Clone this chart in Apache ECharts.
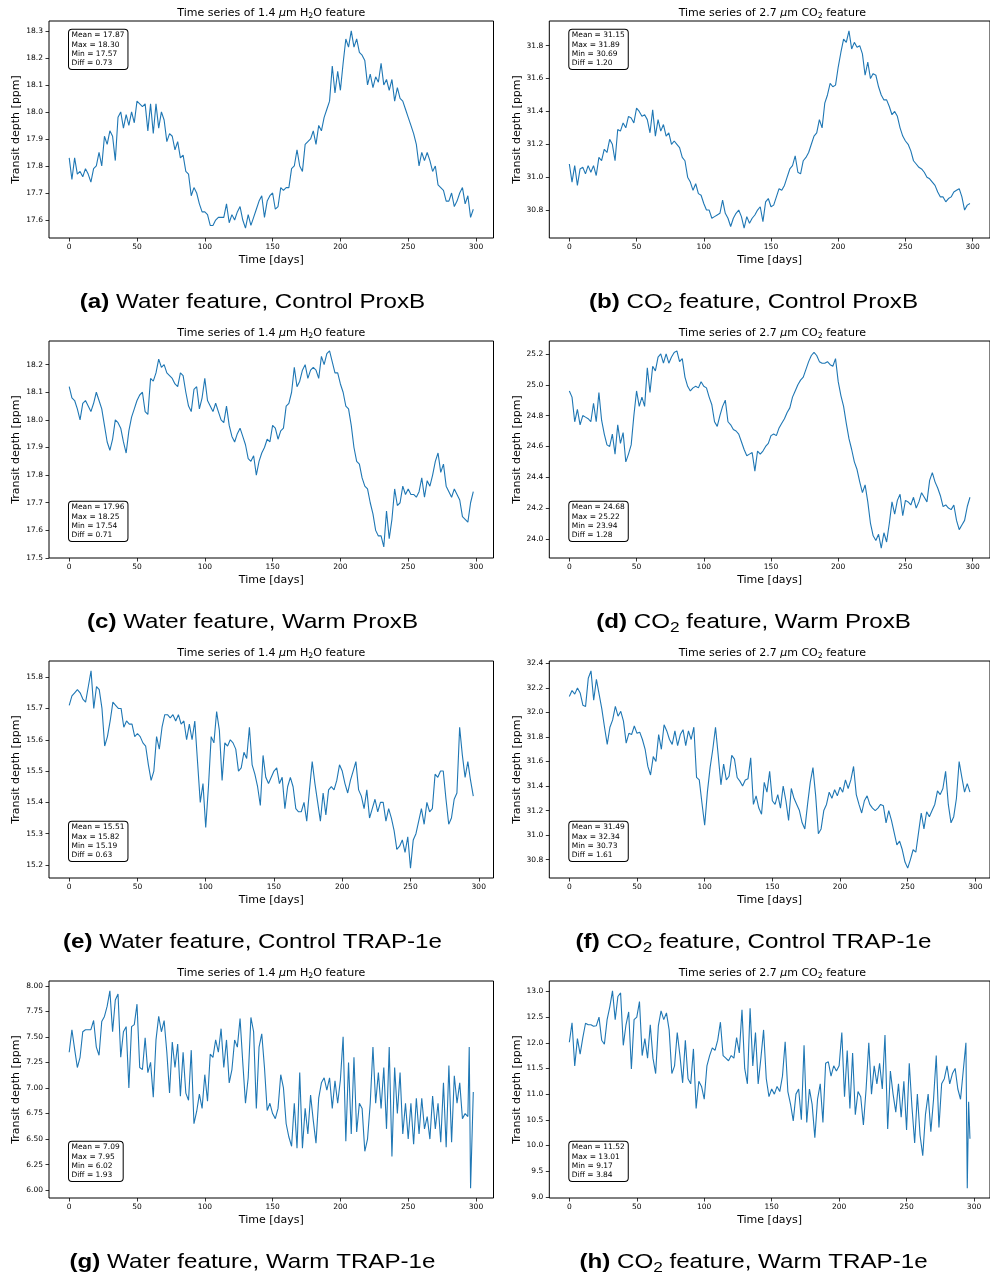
<!DOCTYPE html>
<html><head><meta charset="utf-8">
<script src="https://cdn.jsdelivr.net/npm/echarts@6/dist/echarts.min.js"></script>
<style>html,body{margin:0;padding:0;background:#fff}#c{width:990px;height:1276px}</style>
</head><body><div id="c"></div>
<script>
// ---------------- DATA ----------------
const seriesA = [
17.83,17.75,17.83,17.77,17.78,17.76,17.79,17.77,17.74,17.79,
17.80,17.85,17.80,17.91,17.88,17.93,17.91,17.82,17.98,18.00,
17.94,17.99,17.95,18.00,17.96,18.04,18.03,18.02,18.03,17.93,
18.03,17.92,18.03,17.94,18.00,17.97,17.89,17.92,17.91,17.86,
17.89,17.83,17.84,17.78,17.77,17.69,17.72,17.70,17.66,17.63,
17.63,17.62,17.58,17.58,17.60,17.61,17.61,17.61,17.66,17.59,
17.62,17.60,17.63,17.65,17.60,17.57,17.62,17.58,17.61,17.64,
17.67,17.69,17.61,17.67,17.69,17.70,17.64,17.65,17.72,17.71,
17.72,17.72,17.79,17.80,17.86,17.80,17.78,17.88,17.89,17.90,
17.93,17.88,17.95,17.93,17.98,18.01,18.04,18.17,18.07,18.15,
18.08,18.18,18.27,18.24,18.30,18.24,18.27,18.22,18.21,18.19,
18.10,18.14,18.09,18.13,18.11,18.18,18.10,18.12,18.08,18.12,
18.04,18.09,18.05,18.04,18.01,17.98,17.95,17.92,17.88,17.80,
17.85,17.82,17.85,17.82,17.78,17.80,17.73,17.72,17.71,17.67,
17.67,17.70,17.65,17.67,17.70,17.72,17.66,17.69,17.61,17.64];
const seriesB = [
31.08,30.97,31.07,30.95,31.05,31.06,31.02,31.07,31.03,31.07,
31.01,31.12,31.10,31.17,31.15,31.23,31.20,31.10,31.29,31.28,
31.33,31.30,31.37,31.36,31.33,31.42,31.40,31.37,31.38,31.35,
31.27,31.41,31.25,31.35,31.28,31.32,31.25,31.27,31.20,31.22,
31.20,31.18,31.12,31.10,31.00,30.97,30.92,30.96,30.90,30.89,
30.84,30.80,30.80,30.75,30.76,30.77,30.78,30.86,30.78,30.75,
30.70,30.75,30.78,30.80,30.76,30.69,30.76,30.72,30.75,30.77,
30.80,30.82,30.73,30.85,30.87,30.82,30.83,30.88,30.93,30.92,
30.95,31.00,31.05,31.07,31.13,31.03,31.02,31.10,31.12,31.15,
31.20,31.25,31.27,31.35,31.30,31.45,31.50,31.57,31.55,31.56,
31.67,31.76,31.84,31.82,31.89,31.78,31.82,31.79,31.80,31.75,
31.62,31.70,31.60,31.63,31.62,31.55,31.50,31.47,31.47,31.43,
31.38,31.40,31.37,31.30,31.25,31.22,31.20,31.16,31.10,31.08,
31.06,31.05,31.03,31.00,30.99,30.97,30.95,30.91,30.88,30.88,
30.85,30.87,30.88,30.91,30.92,30.93,30.88,30.80,30.83,30.84];
const seriesC = [
18.12,18.08,18.07,18.04,18.00,18.06,18.07,18.05,18.03,18.06,
18.10,18.07,18.04,17.98,17.92,17.89,17.93,18.00,17.99,17.97,
17.92,17.88,17.96,18.01,18.04,18.07,18.09,18.10,18.03,18.02,
18.15,18.14,18.17,18.22,18.19,18.20,18.17,18.16,18.15,18.13,
18.12,18.17,18.16,18.10,18.05,18.03,18.11,18.12,18.04,18.08,
18.15,18.07,18.05,18.03,18.06,18.03,18.00,17.99,18.05,17.98,
17.94,17.92,17.95,17.97,17.94,17.91,17.86,17.85,17.87,17.80,
17.85,17.88,17.90,17.93,17.92,17.98,17.97,17.93,17.96,17.97,
18.05,18.06,18.10,18.19,18.12,18.14,18.18,18.20,18.15,18.18,
18.19,18.18,18.15,18.23,18.20,18.24,18.25,18.21,18.17,18.17,
18.13,18.10,18.05,18.04,17.98,17.90,17.85,17.84,17.79,17.76,
17.75,17.70,17.66,17.60,17.58,17.58,17.54,17.67,17.57,17.64,
17.75,17.69,17.70,17.76,17.73,17.75,17.73,17.73,17.72,17.74,
17.79,17.72,17.78,17.76,17.80,17.85,17.88,17.81,17.84,17.76,
17.74,17.72,17.75,17.73,17.71,17.65,17.64,17.63,17.70,17.74];
const seriesD = [
24.96,24.92,24.76,24.84,24.74,24.80,24.79,24.78,24.76,24.88,
24.76,24.95,24.77,24.68,24.61,24.60,24.68,24.55,24.74,24.62,
24.69,24.50,24.55,24.61,24.80,24.96,24.86,24.92,24.86,25.11,
24.95,25.12,25.09,25.18,25.20,25.14,25.20,25.14,25.18,25.21,
25.22,25.15,25.17,25.05,24.99,24.96,24.98,24.99,24.98,25.02,
24.99,24.98,24.92,24.87,24.76,24.73,24.80,24.86,24.90,24.76,
24.74,24.71,24.70,24.68,24.63,24.58,24.54,24.55,24.56,24.44,
24.57,24.55,24.57,24.60,24.62,24.67,24.68,24.67,24.72,24.75,
24.78,24.82,24.85,24.92,24.96,25.00,25.03,25.05,25.10,25.15,
25.19,25.21,25.19,25.15,25.14,25.14,25.15,25.13,25.12,25.17,
25.02,24.93,24.86,24.75,24.65,24.58,24.50,24.45,24.37,24.30,
24.35,24.24,24.10,24.02,23.99,24.03,23.94,24.04,23.98,24.10,
24.24,24.16,24.25,24.29,24.15,24.25,24.24,24.22,24.27,24.20,
24.24,24.30,24.27,24.24,24.38,24.43,24.37,24.33,24.28,24.21,
24.22,24.20,24.19,24.22,24.12,24.06,24.09,24.12,24.21,24.27];
const seriesE = [
15.71,15.74,15.75,15.76,15.75,15.73,15.72,15.77,15.82,15.70,
15.77,15.76,15.70,15.58,15.61,15.66,15.72,15.71,15.70,15.70,
15.64,15.66,15.65,15.65,15.61,15.62,15.61,15.59,15.58,15.52,
15.47,15.50,15.61,15.57,15.64,15.68,15.68,15.67,15.68,15.66,
15.68,15.65,15.66,15.60,15.65,15.60,15.66,15.53,15.40,15.46,
15.32,15.45,15.61,15.59,15.69,15.63,15.47,15.59,15.58,15.60,
15.59,15.57,15.50,15.51,15.56,15.54,15.64,15.52,15.49,15.45,
15.39,15.55,15.48,15.46,15.48,15.50,15.51,15.46,15.48,15.38,
15.45,15.48,15.45,15.38,15.37,15.37,15.40,15.34,15.44,15.53,
15.46,15.40,15.34,15.43,15.36,15.44,15.45,15.44,15.47,15.52,
15.50,15.46,15.43,15.47,15.50,15.53,15.44,15.42,15.38,15.44,
15.35,15.38,15.41,15.37,15.40,15.40,15.34,15.38,15.35,15.31,
15.25,15.26,15.28,15.24,15.29,15.19,15.28,15.30,15.34,15.38,
15.33,15.40,15.37,15.38,15.49,15.48,15.50,15.50,15.41,15.33,
15.35,15.41,15.43,15.64,15.55,15.48,15.53,15.47,15.42];
const seriesF = [
32.13,32.18,32.15,32.20,32.16,32.06,32.05,32.28,32.34,32.10,
32.27,32.15,32.03,31.88,31.74,31.88,31.94,32.05,31.97,32.01,
31.93,31.75,31.83,31.82,31.89,31.83,31.84,31.78,31.70,31.56,
31.49,31.64,31.60,31.82,31.70,31.90,31.85,31.78,31.74,31.85,
31.73,31.82,31.86,31.73,31.85,31.78,31.88,31.47,31.45,31.26,
31.08,31.35,31.55,31.70,31.88,31.65,31.41,31.58,31.45,31.48,
31.65,31.62,31.47,31.44,31.40,31.45,31.46,31.63,31.25,31.32,
31.22,31.17,31.43,31.35,31.52,31.28,31.25,31.33,31.22,31.40,
31.28,31.12,31.38,31.30,31.25,31.20,31.10,31.05,31.25,31.43,
31.55,31.32,31.01,31.05,31.20,31.25,31.35,31.30,31.37,31.32,
31.39,31.35,31.45,31.38,31.45,31.56,31.33,31.25,31.18,31.28,
31.32,31.25,31.22,31.20,31.22,31.25,31.24,31.10,31.20,31.12,
31.02,30.92,30.95,30.88,30.78,30.73,30.80,30.88,30.86,31.02,
31.18,31.05,31.19,31.15,31.20,31.25,31.36,31.33,31.38,31.52,
31.25,31.10,31.15,31.30,31.60,31.47,31.35,31.42,31.35];
const seriesG = [
7.35,7.57,7.38,7.20,7.30,7.55,7.57,7.57,7.57,7.66,
7.40,7.32,7.65,7.70,7.80,7.95,7.55,7.86,7.92,7.30,
7.55,7.60,7.00,7.60,7.62,7.82,7.20,7.18,7.49,7.15,
7.25,6.91,7.47,7.70,7.55,7.66,7.35,6.95,7.45,7.20,
7.43,6.92,7.35,6.95,6.88,7.37,6.65,6.77,6.94,6.80,
7.13,6.87,7.33,7.30,7.47,7.35,7.58,7.20,7.47,7.05,
7.18,7.47,7.40,7.68,7.25,6.85,7.10,7.69,7.55,6.80,
7.40,7.53,7.20,6.78,6.85,6.75,6.70,6.80,7.13,7.00,
6.65,6.52,6.43,6.85,6.41,7.15,6.41,6.80,6.55,6.93,
6.68,6.46,6.90,7.05,7.10,6.98,7.10,6.80,7.07,6.85,
7.08,7.50,6.48,7.25,6.55,7.30,6.57,6.85,6.80,6.38,
6.50,6.85,7.40,6.85,7.15,6.80,7.20,6.60,7.40,6.33,
7.20,6.75,7.15,6.55,6.85,6.50,6.85,6.45,6.90,6.55,
6.90,6.60,6.72,6.50,6.92,6.60,6.85,6.47,7.05,6.42,
7.22,6.47,7.12,6.85,7.05,6.70,6.75,6.72,7.40,6.02,6.96];
const seriesH = [
12.01,12.39,11.55,12.08,11.78,12.10,12.38,12.35,12.35,12.32,
12.33,12.50,12.05,11.97,12.45,12.70,13.01,12.45,12.90,12.97,
11.95,12.35,12.60,11.49,12.45,12.50,12.80,11.75,12.08,11.70,
12.35,11.70,11.40,12.33,12.62,12.45,12.58,12.25,11.40,11.55,
12.20,11.75,11.22,12.05,11.30,11.20,11.88,10.72,11.25,11.15,
10.90,11.55,11.75,11.90,11.85,12.05,12.40,11.75,11.70,11.65,
11.75,11.70,12.10,11.80,12.64,11.50,11.20,12.67,11.55,12.20,
11.20,11.70,12.25,11.30,10.95,11.10,11.00,11.15,11.05,11.35,
12.02,11.05,10.80,10.48,11.00,11.10,10.50,11.95,10.45,11.10,
10.80,10.15,10.90,11.20,10.45,11.60,11.63,11.35,11.55,11.45,
11.55,12.20,10.95,11.85,10.72,11.80,10.60,11.05,10.95,10.40,
11.10,12.00,11.00,11.55,11.20,11.60,11.10,12.15,10.32,11.45,
11.00,10.65,11.20,10.55,11.25,10.30,11.60,10.75,10.05,11.00,
10.20,9.80,10.60,11.00,10.27,10.90,11.75,10.35,11.20,11.30,
11.55,11.20,11.40,11.50,11.10,10.90,11.45,12.00,9.17,10.85,10.13];

// days sampled for each series: every 2nd day up to day 294, then the listed final days
const dayStep = 2;
const endDays = [[296,298],[296,298],[296,298],[296,298],[296],[296],[295,296,298],[295,296,297]];

const statMean = ['17.87','31.15','17.96','24.68','15.51','31.49','7.09','11.52'];
const statMax  = ['18.30','31.89','18.25','25.22','15.82','32.34','7.95','13.01'];
const statMin  = ['17.57','30.69','17.54','23.94','15.19','30.73','6.02','9.17'];
const statDiff = ['0.73','1.20','0.71','1.28','0.63','1.61','1.93','3.84'];

const xTickLabels = ['0','50','100','150','200','250','300'];
const yTickLabels = [
  ['17.6','17.7','17.8','17.9','18.0','18.1','18.2','18.3'],
  ['30.8','31.0','31.2','31.4','31.6','31.8'],
  ['17.5','17.6','17.7','17.8','17.9','18.0','18.1','18.2'],
  ['24.0','24.2','24.4','24.6','24.8','25.0','25.2'],
  ['15.2','15.3','15.4','15.5','15.6','15.7','15.8'],
  ['30.8','31.0','31.2','31.4','31.6','31.8','32.0','32.2','32.4'],
  ['6.00','6.25','6.50','6.75','7.00','7.25','7.50','7.75','8.00'],
  ['9.0','9.5','10.0','10.5','11.0','11.5','12.0','12.5','13.0']
];
const captionLetters = ['(a)','(b)','(c)','(d)','(e)','(f)','(g)','(h)'];
const captionTexts = ['Water feature, Control ProxB','feature, Control ProxB','Water feature, Warm ProxB','feature, Warm ProxB',
  'Water feature, Control TRAP-1e','feature, Control TRAP-1e','Water feature, Warm TRAP-1e','feature, Warm TRAP-1e'];

// ---------------- LAYOUT ----------------
const allSeries = [seriesA,seriesB,seriesC,seriesD,seriesE,seriesF,seriesG,seriesH];
const colLeft = [49, 549.3], colWidth = [444.5, 446];
const rowTop = [21, 341, 661, 981], plotH = 217;
const captionX = [252.5, 753.5];
const FONT = "'DejaVu Sans', sans-serif";
const CAPFONT = "'Liberation Sans', Arial, sans-serif";

function seq(a, b, s) { const r = []; for (let d = a; d <= b; d += s) r.push(d); return r; }

const grid = [], xAxis = [], yAxis = [], series = [], graphic = [];
for (let i = 0; i < 8; i++) {
  const col = i % 2, row = Math.floor(i / 2);
  const days = seq(0, 294, dayStep).concat(endDays[i]);
  const vals = allSeries[i];
  if (days.length !== vals.length) console.error('length mismatch', i, days.length, vals.length);
  const last = days[days.length - 1];
  const lo = Number(statMin[i]), hi = Number(statMax[i]), pad = 0.05 * (hi - lo);
  const yt = yTickLabels[i].map(Number);
  const xt = xTickLabels.map(Number);
  grid.push({left: colLeft[col], top: rowTop[row], width: colWidth[col], height: plotH,
    show: true, borderColor: '#000', borderWidth: 1, backgroundColor: 'transparent'});
  xAxis.push({type: 'value', gridIndex: i, min: -0.05 * last, max: 1.05 * last,
    axisLine: {show: false, onZero: false}, splitLine: {show: false},
    axisTick: {show: true, length: 3.5, customValues: xt, lineStyle: {color: '#000', width: 0.8}},
    axisLabel: {customValues: xt, fontSize: 7.5, color: '#000', margin: 5.5, fontFamily: FONT,
      formatter: v => xTickLabels[xt.indexOf(v)] ?? ''},
    name: 'Time [days]', nameLocation: 'middle', nameGap: 16.5,
    nameTextStyle: {fontSize: 11, color: '#000', fontFamily: FONT}});
  yAxis.push({type: 'value', gridIndex: i, min: Math.min(lo - pad, yt[0]), max: Math.max(hi + pad, yt[yt.length-1]),
    axisLine: {show: false, onZero: false}, splitLine: {show: false},
    axisTick: {show: true, length: 3.5, customValues: yt, lineStyle: {color: '#000', width: 0.8}},
    axisLabel: {customValues: yt, fontSize: 7.5, color: '#000', margin: 6, fontFamily: FONT,
      formatter: v => { const k = yt.findIndex(t => Math.abs(t - v) < 1e-9); return k >= 0 ? yTickLabels[i][k] : ''; }},
    name: 'Transit depth [ppm]', nameLocation: 'middle', nameGap: 27,
    nameTextStyle: {fontSize: 11, color: '#000', fontFamily: FONT}});
  series.push({type: 'line', xAxisIndex: i, yAxisIndex: i, showSymbol: false, symbol: 'none',
    data: days.map((d, k) => [d, vals[k]]), lineStyle: {color: '#1f77b4', width: 1.1}, z: 3});

  // title
  const feat = col === 0 ? ['1.4 ', 'H', 'O feature'] : ['2.7 ', 'CO', ' feature'];
  graphic.push({type: 'text', x: colLeft[col] + colWidth[col] / 2, y: rowTop[row] - 8, z: 100,
    style: {text: '{n|Time series of ' + feat[0] + '}{i|μ}{n|m ' + feat[1] + '}{s|2}{n|' + feat[2] + '}',
      align: 'center', verticalAlign: 'middle',
      rich: {n: {fontSize: 11, fontFamily: FONT, fill: '#000', lineHeight: 13},
             i: {fontSize: 11, fontFamily: FONT, fontStyle: 'italic', fill: '#000', lineHeight: 13},
             s: {fontSize: 7.8, fontFamily: FONT, fill: '#000', lineHeight: 9, verticalAlign: 'bottom'}}}});
  // stats box
  const boxTop = row === 0 ? rowTop[row] + 8.8 : rowTop[row] + 160.7;
  graphic.push({type: 'text', x: colLeft[col] + 20, y: boxTop, z: 100,
    style: {text: 'Mean = ' + statMean[i] + '\nMax = ' + statMax[i] + '\nMin = ' + statMin[i] + '\nDiff = ' + statDiff[i],
      fontSize: 7.5, fontFamily: FONT, fill: '#000', lineHeight: 9.3, align: 'left', verticalAlign: 'top',
      backgroundColor: '#fff', borderColor: '#000', borderWidth: 1, borderRadius: 3, padding: [1, 3, 1, 2.5]}});
  // caption
  const capText = col === 0
    ? '{b|' + captionLetters[i] + '}{n| ' + captionTexts[i] + '}'
    : '{b|' + captionLetters[i] + '}{n| CO}{s|2}{n| ' + captionTexts[i] + '}';
  graphic.push({type: 'text', x: captionX[col], y: rowTop[row] + 281, z: 100, scaleX: 1.15,
    style: {text: capText, align: 'center', verticalAlign: 'middle',
      rich: {b: {fontSize: 21, fontWeight: 'bold', fontFamily: CAPFONT, fill: '#000', lineHeight: 26},
             n: {fontSize: 21, fontFamily: CAPFONT, fill: '#000', lineHeight: 26},
             s: {fontSize: 15, fontFamily: CAPFONT, fill: '#000', lineHeight: 17, verticalAlign: 'bottom'}}}});
}

const chart = echarts.init(document.getElementById('c'), null, {renderer: 'canvas'});
chart.setOption({animation: false, backgroundColor: '#fff', grid, xAxis, yAxis, series, graphic});
</script></body></html>
